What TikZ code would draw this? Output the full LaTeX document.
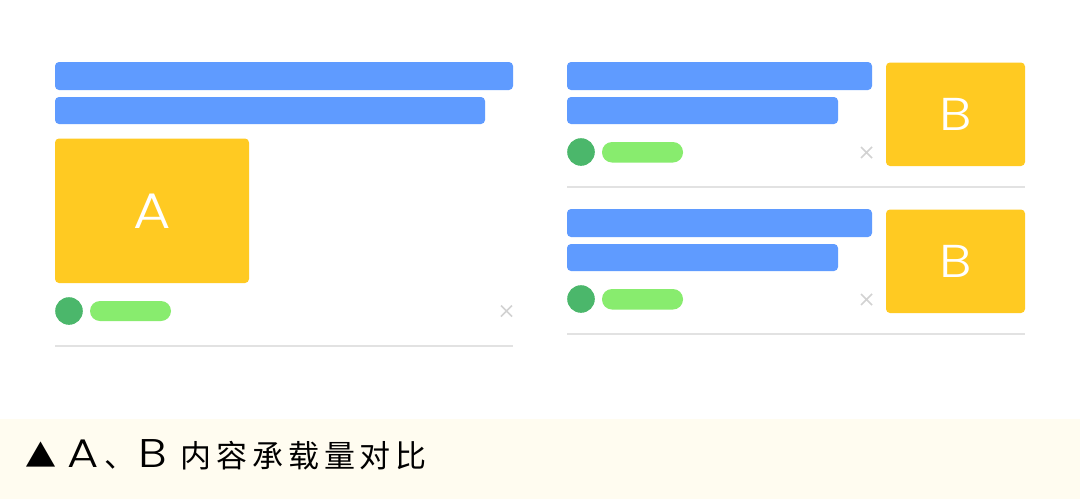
\documentclass[tikz,border=0pt]{standalone}
\usepackage{fontspec}
\usepackage{graphicx}
\setmainfont{Noto Sans CJK SC}
\IfFontExistsTF{Poppins Light}{\newfontfamily\lettf{Poppins Light}}{\newfontfamily\lettf{Poppins}}
\newfontfamily\capletf{Poppins}
\newfontfamily\capfont{Noto Sans CJK SC}[LetterSpace=16]
\definecolor{barblue}{HTML}{5F9BFF}
\definecolor{imgyellow}{HTML}{FFCA22}
\definecolor{dotgreen}{HTML}{4BB76B}
\definecolor{pillgreen}{HTML}{88EC6E}
\definecolor{xgray}{HTML}{D2D2D2}
\definecolor{rulegray}{HTML}{E2E2E2}
\definecolor{capbg}{HTML}{FFFCF0}
\tikzset{
  bar/.style={fill=barblue, rounded corners=4pt},
  imgbox/.style={fill=imgyellow, rounded corners=4pt},
  dot/.style={fill=dotgreen},
  pill/.style={fill=pillgreen, rounded corners=10pt},
  xmark/.style={draw=xgray, line width=1.6pt},
  divider/.style={draw=rulegray, line width=1.4pt},
  boxletter/.style={text=white, inner sep=0pt},
  captext/.style={anchor=base west, inner sep=0pt, text=black},
}
\begin{document}
\begin{tikzpicture}[x=1pt,y=-1pt]
\useasboundingbox (0,0) rectangle (1080,499);
\fill[white] (0,0) rectangle (1080,499);
% caption band
\fill[capbg] (0,419) rectangle (1080,499);

% ---- left card (A)
\fill[bar] (55,62) rectangle (513,90);
\fill[bar] (55,97) rectangle (485,124);
\fill[imgbox] (55,138.5) rectangle (249,283);
\node[boxletter, font=\lettf\fontsize{50}{50}\selectfont] (A) at (152,211) {\scalebox{1.15}[1]{A}};
\fill[dot] (69,311) circle (13.8);
\fill[pill] (90,301) rectangle (171,321);
\coordinate (xa) at (506.5,311);
\draw[xmark] ([shift={(-5.5,-5.5)}]xa) -- ([shift={(5.5,5.5)}]xa) ([shift={(-5.5,5.5)}]xa) -- ([shift={(5.5,-5.5)}]xa);
\draw[divider] (55,346) -- (513,346);

% ---- right cards (B)
\foreach \dy/\nm in {0/B1,147/B2}{
  \begin{scope}[yshift=-\dy pt]
  \fill[bar] (567,62) rectangle (872,90);
  \fill[bar] (567,97) rectangle (838,124);
  \fill[imgbox] (886,62.5) rectangle (1025,166);
  \node[boxletter, font=\lettf\fontsize{46}{46}\selectfont] (\nm) at (956,114.5) {\scalebox{1.18}[1]{B}};
  \fill[dot] (581,152) circle (13.8);
  \fill[pill] (602,142) rectangle (683,162.5);
  \coordinate (x\nm) at (866.5,152.5);
  \draw[xmark] ([shift={(-5.5,-5.5)}]x\nm) -- ([shift={(5.5,5.5)}]x\nm) ([shift={(-5.5,5.5)}]x\nm) -- ([shift={(5.5,-5.5)}]x\nm);
  \draw[divider] (567,187) -- (1025,187);
  \end{scope}
}

% ---- caption
\node[captext, font=\fontsize{31}{31}\selectfont] (tri) at (25,467) {▲};
\node[captext, font=\lettf\fontsize{40}{40}\selectfont] (ca) at (67,467) {\scalebox{1.2}[1]{A}};
\node[captext, font=\fontsize{31}{31}\selectfont] (comma) at (104,467) {、};
\node[captext, font=\lettf\fontsize{40}{40}\selectfont] (cb) at (138,467) {\scalebox{1.2}[1]{B}};
\node[captext, font=\capfont\fontsize{31}{31}\selectfont] (cap) at (180,467) {内容承载量对比};
\end{tikzpicture}
\end{document}
